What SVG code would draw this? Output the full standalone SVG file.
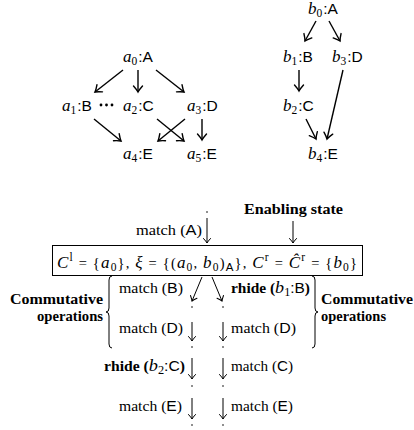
<svg xmlns="http://www.w3.org/2000/svg" width="414" height="430" viewBox="0 0 414 430">
<style>
text{fill:#000}
.lbl{font-family:"Liberation Sans",Arial,sans-serif;font-size:15.5px}
.mi{font-family:"Liberation Serif","Times New Roman",serif;font-style:italic;font-size:17px}
.sub{font-family:"Liberation Serif","Times New Roman",serif;font-size:11.5px;font-style:normal}
.rm{font-family:"Liberation Serif","Times New Roman",serif;font-size:14.5px}
.bf{font-family:"Liberation Serif","Times New Roman",serif;font-size:14.5px;font-weight:bold}
.co{font-family:"Liberation Serif","Times New Roman",serif;font-size:15px;font-weight:bold}
.sf{font-family:"Liberation Sans",Arial,sans-serif}
.e1{stroke:#000;stroke-width:1.4;fill:none;marker-end:url(#ah)}
.e2{stroke:#000;stroke-width:1;fill:none;marker-end:url(#ah2)}
.br{stroke:#000;stroke-width:1;fill:none}
</style>
<defs>
<marker id="ah" viewBox="-7 -6 8 12" refX="0" refY="0" markerWidth="8" markerHeight="12" orient="auto" markerUnits="userSpaceOnUse" overflow="visible"><path d="M-6,-4.5 Q-2,-1 0,0 Q-2,1 -6,4.5" fill="none" stroke="#000" stroke-width="1.4" stroke-linecap="round"/></marker>
<marker id="ah2" viewBox="-6 -5 7 10" refX="0" refY="0" markerWidth="7" markerHeight="10" orient="auto" markerUnits="userSpaceOnUse" overflow="visible"><path d="M-4.5,-3.5 Q-1.5,-0.8 0,0 Q-1.5,0.8 -4.5,3.5" fill="none" stroke="#000" stroke-width="1" stroke-linecap="round"/></marker>
</defs>

<g id="connectors">
<path class="e1" d="M123,70 L95,92"/>
<path class="e1" d="M138,70 L138,92"/>
<path class="e1" d="M156,70 L184,92"/>
<path d="M101,105 L117,105" stroke="#000" stroke-width="2.8" stroke-linecap="round" stroke-dasharray="0 5.5" fill="none"/>
<path class="e1" d="M94,119 L121,141"/>
<path class="e1" d="M157,119 L184,141"/>
<path class="e1" d="M185,119 L158,141"/>
<path class="e1" d="M202,119 L202,140"/>
<path class="e1" d="M316,21 L305,41"/>
<path class="e1" d="M329,21 L340,41"/>
<path class="e1" d="M299,70 L299,91"/>
<path class="e1" d="M343,70 L327,139"/>
<path class="e1" d="M306,119 L316,139"/>
<path class="e2" d="M207,218 L207,243"/>
<path class="e2" d="M293,221 L293,243"/>
<path class="e2" d="M202,277 L192,301"/>
<path class="e2" d="M212,277 L222,301"/>
<path class="e2" d="M192,322 L192,341"/>
<path class="e2" d="M223,322 L223,341"/>
<path class="e2" d="M192,358 L192,379"/>
<path class="e2" d="M223,358 L223,379"/>
<path class="e2" d="M192,398 L192,419"/>
<path class="e2" d="M223,398 L223,419"/>
</g>

<g id="a0"><text class="lbl" x="123" y="62"><tspan class="mi">a</tspan><tspan class="sub" dy="3">0</tspan><tspan dx="1" dy="-3">:A</tspan></text></g>
<g id="a1"><text class="lbl" x="62" y="110.5"><tspan class="mi">a</tspan><tspan class="sub" dy="3">1</tspan><tspan dx="1" dy="-3">:B</tspan></text></g>
<g id="a2"><text class="lbl" x="123" y="110.5"><tspan class="mi">a</tspan><tspan class="sub" dy="3">2</tspan><tspan dx="1" dy="-3">:C</tspan></text></g>
<g id="a3"><text class="lbl" x="187" y="110.5"><tspan class="mi">a</tspan><tspan class="sub" dy="3">3</tspan><tspan dx="1" dy="-3">:D</tspan></text></g>
<g id="a4"><text class="lbl" x="123" y="158.5"><tspan class="mi">a</tspan><tspan class="sub" dy="3">4</tspan><tspan dx="1" dy="-3">:E</tspan></text></g>
<g id="a5"><text class="lbl" x="187" y="158.5"><tspan class="mi">a</tspan><tspan class="sub" dy="3">5</tspan><tspan dx="1" dy="-3">:E</tspan></text></g>

<g id="b0"><text class="lbl" x="308" y="13.5"><tspan class="mi">b</tspan><tspan class="sub" dy="3">0</tspan><tspan dx="1" dy="-3">:A</tspan></text></g>
<g id="b1"><text class="lbl" x="283" y="61.5"><tspan class="mi">b</tspan><tspan class="sub" dy="3">1</tspan><tspan dx="1" dy="-3">:B</tspan></text></g>
<g id="b3"><text class="lbl" x="332" y="61.5"><tspan class="mi">b</tspan><tspan class="sub" dy="3">3</tspan><tspan dx="1" dy="-3">:D</tspan></text></g>
<g id="b2"><text class="lbl" x="283" y="110.5"><tspan class="mi">b</tspan><tspan class="sub" dy="3">2</tspan><tspan dx="1" dy="-3">:C</tspan></text></g>
<g id="b4"><text class="lbl" x="308" y="159"><tspan class="mi">b</tspan><tspan class="sub" dy="3">4</tspan><tspan dx="1" dy="-3">:E</tspan></text></g>

<g id="dots" fill="#000">
<circle cx="207" cy="212" r="0.8"/>
<circle cx="192" cy="307" r="0.8"/><circle cx="223" cy="307" r="0.8"/>
<circle cx="192" cy="347" r="0.8"/><circle cx="223" cy="347" r="0.8"/>
<circle cx="192" cy="386" r="0.8"/><circle cx="223" cy="386" r="0.8"/>
<circle cx="192" cy="425" r="0.8"/><circle cx="223" cy="425" r="0.8"/>
</g>

<g id="labels">
<text class="rm" x="136" y="235" textLength="66" lengthAdjust="spacingAndGlyphs">match (<tspan class="sf">A</tspan>)</text>
<text class="bf" x="244" y="214" textLength="99" lengthAdjust="spacingAndGlyphs">Enabling state</text>
<text class="rm" x="119" y="293" textLength="64" lengthAdjust="spacingAndGlyphs">match (<tspan class="sf">B</tspan>)</text>
<text class="bf" x="231" y="293" textLength="79" lengthAdjust="spacingAndGlyphs">rhide (<tspan class="mi" font-weight="normal">b</tspan><tspan class="sub" font-weight="normal" dy="3">1</tspan><tspan class="sf" font-weight="normal" dy="-3">:B</tspan>)</text>
<text class="co" x="103" y="304" text-anchor="end" textLength="93" lengthAdjust="spacingAndGlyphs">Commutative</text>
<text class="co" x="103" y="320.5" text-anchor="end" textLength="66" lengthAdjust="spacingAndGlyphs">operations</text>
<text class="co" x="321" y="304" textLength="92" lengthAdjust="spacingAndGlyphs">Commutative</text>
<text class="co" x="321" y="320.5" textLength="65" lengthAdjust="spacingAndGlyphs">operations</text>
<text class="rm" x="119" y="333" textLength="64" lengthAdjust="spacingAndGlyphs">match (<tspan class="sf">D</tspan>)</text>
<text class="rm" x="231" y="333" textLength="65" lengthAdjust="spacingAndGlyphs">match (<tspan class="sf">D</tspan>)</text>
<text class="bf" x="104" y="371" textLength="81" lengthAdjust="spacingAndGlyphs">rhide (<tspan class="mi" font-weight="normal">b</tspan><tspan class="sub" font-weight="normal" dy="3">2</tspan><tspan class="sf" font-weight="normal" dy="-3">:C</tspan>)</text>
<text class="rm" x="231" y="371" textLength="62" lengthAdjust="spacingAndGlyphs">match (<tspan class="sf">C</tspan>)</text>
<text class="rm" x="119" y="411" textLength="63" lengthAdjust="spacingAndGlyphs">match (<tspan class="sf">E</tspan>)</text>
<text class="rm" x="231" y="411" textLength="62" lengthAdjust="spacingAndGlyphs">match (<tspan class="sf">E</tspan>)</text>
</g>

<g id="braces">
<path class="br" d="M112,276 Q109,276 109,280 L109,308 Q109,312 106,312 Q109,312 109,316 L109,344 Q109,348 112,348"/>
<path class="br" d="M312,276 Q315,276 315,280 L315,308 Q315,312 318,312 Q315,312 315,316 L315,344 Q315,348 312,348"/>
</g>

<g id="state">
<rect x="52.5" y="245.5" width="310" height="30" fill="none" stroke="#000" stroke-width="1"/>
<text class="rm" x="57" y="267.5" font-size="17" textLength="300" lengthAdjust="spacing"><tspan class="mi">C</tspan><tspan class="sub" dy="-7" font-style="italic">l</tspan><tspan dy="7"> = {</tspan><tspan class="mi">a</tspan><tspan class="sub" dy="3">0</tspan><tspan dy="-3">}, </tspan><tspan class="mi">ξ</tspan> = {(<tspan class="mi">a</tspan><tspan class="sub" dy="3">0</tspan><tspan dy="-3">, </tspan><tspan class="mi">b</tspan><tspan class="sub" dy="3">0</tspan><tspan dy="-3">)</tspan><tspan class="sub sf" dy="3">A</tspan><tspan dy="-3">}, </tspan><tspan class="mi">C</tspan><tspan class="sub" dy="-7" font-style="italic">r</tspan><tspan dy="7"> = </tspan><tspan class="mi">Ĉ</tspan><tspan class="sub" dy="-7" font-style="italic">r</tspan><tspan dy="7"> = {</tspan><tspan class="mi">b</tspan><tspan class="sub" dy="3">0</tspan><tspan dy="-3">}</tspan></text>
</g>
</svg>
